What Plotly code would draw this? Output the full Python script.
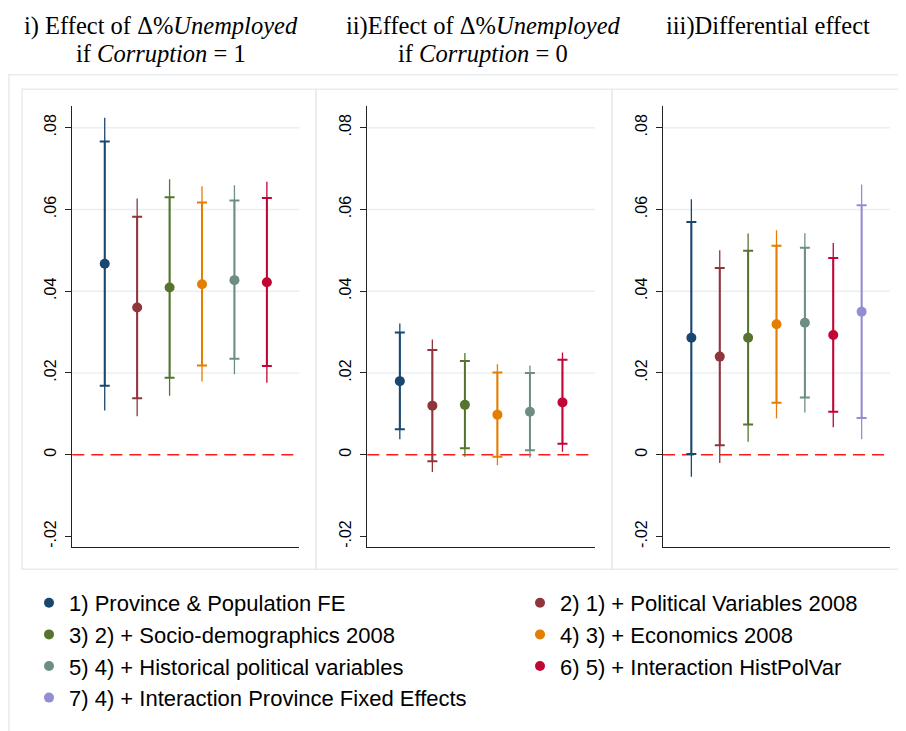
import plotly.graph_objects as go

# ---------------- data ----------------
MODELS = [
    "1) Province & Population FE",
    "2) 1) + Political Variables 2008",
    "3) 2) + Socio-demographics 2008",
    "4) 3) + Economics 2008",
    "5) 4) + Historical political variables",
    "6) 5) + Interaction HistPolVar",
    "7) 4) + Interaction Province Fixed Effects",
]
COLORS = ["#1a476f", "#90353b", "#55752f", "#e37e00", "#6e8e84", "#c10534", "#938dd2"]

P1_EST = [0.0467, 0.0360, 0.0409, 0.0417, 0.0427, 0.0422]
P1_LO95 = [0.0108, 0.0094, 0.0144, 0.0179, 0.0197, 0.0176]
P1_HI95 = [0.0824, 0.0627, 0.0674, 0.0657, 0.0659, 0.0668]
P1_LO90 = [0.0169, 0.0138, 0.0188, 0.0218, 0.0235, 0.0217]
P1_HI90 = [0.0766, 0.0582, 0.0630, 0.0617, 0.0622, 0.0628]

P2_EST = [0.0180, 0.0120, 0.0122, 0.0098, 0.0105, 0.0128]
P2_LO95 = [0.0038, -0.0042, -0.0005, -0.0026, -0.0007, 0.0007]
P2_HI95 = [0.0321, 0.0282, 0.0249, 0.0221, 0.0218, 0.0250]
P2_LO90 = [0.0062, -0.0016, 0.0016, -0.0005, 0.0011, 0.0027]
P2_HI90 = [0.0299, 0.0256, 0.0229, 0.0201, 0.0200, 0.0232]

P3_EST = [0.0286, 0.0240, 0.0286, 0.0319, 0.0323, 0.0293, 0.0350]
P3_LO95 = [-0.0054, -0.0020, 0.0032, 0.0089, 0.0103, 0.0067, 0.0038]
P3_HI95 = [0.0625, 0.0500, 0.0541, 0.0549, 0.0542, 0.0518, 0.0661]
P3_LO90 = [0.0002, 0.0023, 0.0074, 0.0127, 0.0140, 0.0105, 0.0090]
P3_HI90 = [0.0569, 0.0457, 0.0499, 0.0511, 0.0506, 0.0481, 0.0610]

TITLES_L1 = ["i) Effect of Δ%<i>Unemployed</i>", "ii)Effect of Δ%<i>Unemployed</i>", "iii)Differential effect"]
TITLES_L2 = ["if <i>Corruption</i> = 1", "if <i>Corruption</i> = 0", ""]

TICK_VALS = [-0.02, 0, 0.02, 0.04, 0.06, 0.08]
TICK_TEXT = ["-.02", "0", ".02", ".04", ".06", ".08"]
GRID_VALS = [0.02, 0.04, 0.06, 0.08]
REF_LINE = 0

PANELS = [
    (P1_EST, P1_LO95, P1_HI95, P1_LO90, P1_HI90),
    (P2_EST, P2_LO95, P2_HI95, P2_LO90, P2_HI90),
    (P3_EST, P3_LO95, P3_HI95, P3_LO90, P3_HI90),
]

# ---------------- layout geometry ----------------
# page body has an 8px margin, so the figure is 8px smaller and positions are shifted
OFF = 8
W, H = 906 - OFF, 731 - OFF
PX_X = [(72.3, 299.3), (367.3, 595.0), (663.0, 890.0)]
PY_TOP, PY_BOT = 106.0, 546.7
TITLE_CX = [161, 483, 768]


def fx(px):
    return max(0.0, (px - OFF) / W)


def fy(py):
    return 1 - (py - OFF) / H


fig = go.Figure()

for p, (est, lo95, hi95, lo90, hi90) in enumerate(PANELS):
    xa = "x" if p == 0 else f"x{p+1}"
    ya = "y" if p == 0 else f"y{p+1}"
    for i, e in enumerate(est):
        col = COLORS[i]
        xpos = [i + 1]
        # 95% interval (thin, no caps)
        fig.add_trace(go.Scatter(
            x=xpos, y=[e], mode="markers", xaxis=xa, yaxis=ya,
            marker=dict(size=1, color="rgba(0,0,0,0)"),
            error_y=dict(type="data", symmetric=False, array=[hi95[i] - e], arrayminus=[e - lo95[i]],
                         color=col, thickness=1.3, width=0),
            showlegend=False, hoverinfo="skip",
        ))
        # 90% interval (thicker, caps) + point estimate
        show = p == 2
        fig.add_trace(go.Scatter(
            x=xpos, y=[e], mode="markers", xaxis=xa, yaxis=ya, name=MODELS[i],
            marker=dict(size=10, color=col),
            error_y=dict(type="data", symmetric=False, array=[hi90[i] - e], arrayminus=[e - lo90[i]],
                         color=col, thickness=2, width=5),
            showlegend=show, legend=("legend" if i % 2 == 0 else "legend2"),
        ))

layout_axes = {}
for p in range(3):
    n = len(PANELS[p][0])
    xk = "xaxis" if p == 0 else f"xaxis{p+1}"
    yk = "yaxis" if p == 0 else f"yaxis{p+1}"
    xa = "x" if p == 0 else f"x{p+1}"
    ya = "y" if p == 0 else f"y{p+1}"
    layout_axes[xk] = dict(
        domain=[fx(PX_X[p][0]), fx(PX_X[p][1])], range=[0, n + 1], anchor=ya,
        showgrid=False, zeroline=False, showticklabels=False, ticks="",
        showline=True, linecolor="#222222", linewidth=1,
    )
    layout_axes[yk] = dict(
        domain=[fy(PY_BOT), fy(PY_TOP)], range=[-0.0225, 0.0853], anchor=xa,
        tickvals=TICK_VALS, ticktext=TICK_TEXT, tickangle=-90,
        showgrid=False, zeroline=False, ticks="outside", ticklen=6, tickcolor="#222222",
        showline=True, linecolor="#222222", linewidth=1,
        tickfont=dict(family="Liberation Sans, Arial, sans-serif", size=16, color="#000000"),
        ticklabelstandoff=3,
    )

shapes = []
FRAME = "#e6eded"
# outer frame
shapes.append(dict(type="line", xref="paper", yref="paper", x0=fx(7), x1=1.0, y0=fy(74.7), y1=fy(74.7),
                   line=dict(color=FRAME, width=1.5), layer="below"))
shapes.append(dict(type="line", xref="paper", yref="paper", x0=0.001, x1=0.001, y0=fy(74.7), y1=0,
                   line=dict(color=FRAME, width=1.5), layer="below"))
# panel boxes
for x0, x1 in [(22, 316), (316, 612), (612, 915)]:
    shapes.append(dict(type="rect", xref="paper", yref="paper", x0=fx(x0), x1=min(1.01, fx(x1)),
                       y0=fy(569.3), y1=fy(89.3),
                       line=dict(color=FRAME, width=1.5), fillcolor="rgba(0,0,0,0)", layer="below"))
for p in range(3):
    xa = "x" if p == 0 else f"x{p+1}"
    ya = "y" if p == 0 else f"y{p+1}"
    for g in GRID_VALS:
        shapes.append(dict(type="line", xref=f"{xa} domain", yref=ya, x0=0, x1=1, y0=g, y1=g,
                           line=dict(color="#eaf0f2", width=1.5), layer="below"))
    shapes.append(dict(type="line", xref=f"{xa} domain", yref=ya, x0=0, x1=1, y0=REF_LINE, y1=REF_LINE,
                       line=dict(color="#ff1a1a", width=1.6, dash="12px,7px"), layer="below"))

annotations = []
TFONT = dict(family="Liberation Serif, Times New Roman, serif", size=24.5, color="#000000")
for p in range(3):
    annotations.append(dict(xref="paper", yref="paper", x=fx(TITLE_CX[p]), y=fy(26), text=TITLES_L1[p],
                            showarrow=False, xanchor="center", yanchor="middle", font=TFONT))
    if TITLES_L2[p]:
        annotations.append(dict(xref="paper", yref="paper", x=fx(TITLE_CX[p]), y=fy(53), text=TITLES_L2[p],
                                showarrow=False, xanchor="center", yanchor="middle", font=TFONT))

LFONT = dict(family="Liberation Sans, Arial, sans-serif", size=22, color="#000000")
fig.update_layout(
    width=W, height=H, margin=dict(l=0, r=0, t=0, b=0),
    paper_bgcolor="white", plot_bgcolor="white",
    shapes=shapes, annotations=annotations,
    legend=dict(x=fx(29), y=fy(582), xanchor="left", yanchor="top", orientation="v",
                font=LFONT, bgcolor="rgba(0,0,0,0)", tracegroupgap=0),
    legend2=dict(x=fx(520), y=fy(582), xanchor="left", yanchor="top", orientation="v",
                 font=LFONT, bgcolor="rgba(0,0,0,0)", tracegroupgap=0),
    **layout_axes,
)

fig.write_html("out.html")
